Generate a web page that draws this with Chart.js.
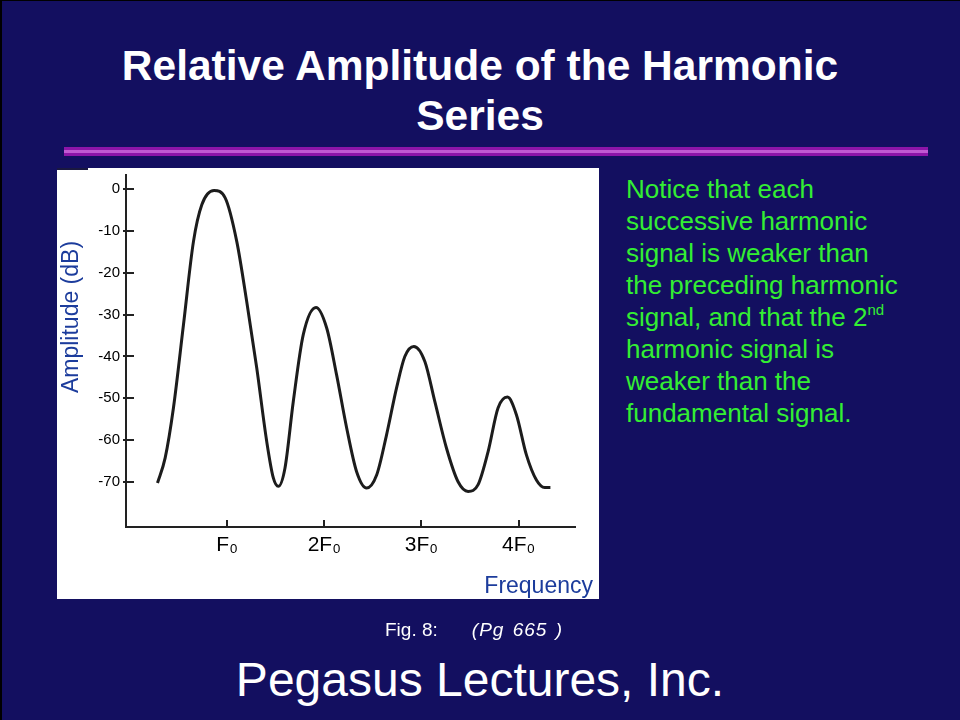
<!DOCTYPE html>
<html>
<head>
<meta charset="utf-8">
<title>Relative Amplitude of the Harmonic Series</title>
<script src="https://cdn.jsdelivr.net/npm/chart.js@4/dist/chart.umd.min.js"></script>
<style>
  html, body { margin: 0; padding: 0; }
  body { width: 960px; height: 720px; overflow: hidden; background: #130f60; font-family: "Liberation Sans", Arial, sans-serif; }
  #slide { position: relative; width: 960px; height: 720px; box-shadow: inset 2px 1px 0 #000; }
  #title { position: absolute; left: 0; top: 41px; width: 960px; text-align: center; color: #fff;
           font-weight: bold; font-size: 42.5px; line-height: 50px; }
  #rule { position: absolute; left: 64px; top: 147px; width: 864px; height: 9px;
          background: linear-gradient(#8c15a8 0 35%, #c05ad2 35% 62%, #8c15a8 62% 100%); }
  #panel { position: absolute; left: 57px; top: 168px; width: 542px; height: 431px; background: #fff; }
  #notch { position: absolute; left: 0; top: 0; width: 31px; height: 2px; background: #1a1840; }
  #chart { position: absolute; left: 0; top: 0; }
  .axisTitle { position: absolute; color: #1c3c9c; font-size: 23px; line-height: 23px; white-space: nowrap; }
  #yTitle { left: 13px; top: 149px; transform: translate(-50%, -50%) rotate(-90deg); }
  #xTitle { right: 6px; top: 406px; }
  #notes { position: absolute; left: 626px; top: 173px; color: #33ee33; font-size: 26px; line-height: 32px; }
  #notes sup { font-size: 15px; line-height: 0; vertical-align: 11px; }
  #fig { position: absolute; left: 385px; top: 620px; color: #fff; font-size: 19px; line-height: 19px; white-space: nowrap; }
  #fig i { margin-left: 34px; letter-spacing: 1px; word-spacing: 2px; }
  #footer { position: absolute; left: 0; top: 656px; width: 960px; text-align: center; color: #fff; font-size: 48px; line-height: 48px; }
</style>
</head>
<body>
<div id="slide">
  <div id="title">Relative Amplitude of the Harmonic<br>Series</div>
  <div id="rule"></div>
  <div id="panel">
    <canvas id="chart" width="542" height="431"></canvas>
    <div id="notch"></div>
    <div class="axisTitle" id="yTitle">Amplitude (dB)</div>
    <div class="axisTitle" id="xTitle">Frequency</div>
  </div>
  <div id="notes">Notice that each<br>successive harmonic<br>signal is weaker than<br>the preceding harmonic<br>signal, and that the 2<sup>nd</sup><br>harmonic signal is<br>weaker than the<br>fundamental signal.</div>
  <div id="fig">Fig. 8:<i>(Pg 665 )</i></div>
  <div id="footer">Pegasus Lectures, Inc.</div>
</div>

<script>
// frequency in multiples of F0
const freqValues = [
  0.284, 0.363, 0.448, 0.551, 0.654, 0.740, 0.866, 0.979, 1.100, 1.202,
  1.305, 1.408, 1.476, 1.527, 1.596, 1.681, 1.784, 1.915, 2.025, 2.127,
  2.230, 2.333, 2.436, 2.539, 2.641, 2.744, 2.829, 2.922, 3.035, 3.138,
  3.258, 3.377, 3.480, 3.583, 3.686, 3.788, 3.885, 3.977, 4.080, 4.183,
  4.268, 4.327
];
// amplitude in dB at each of those points
const amplitudeDb = [
  -70.2, -64.2, -52.3, -32.5, -12.6, -3.8, -0.4, -2.1, -12.6, -26.9,
  -42.7, -60.3, -69.0, -71.0, -66.6, -50.8, -34.8, -28.3, -33.2, -44.4,
  -57.0, -67.5, -71.4, -68.3, -58.7, -47.5, -40.0, -37.6, -41.2, -50.8,
  -61.9, -69.9, -72.2, -70.6, -62.7, -52.3, -49.7, -53.9, -63.5, -69.5,
  -71.3, -71.3
];
const harmonicTicks = [1, 2, 3, 4];
const harmonicLabels = ["F\u2080", "2F\u2080", "3F\u2080", "4F\u2080"];
const dbTicks = [0, -10, -20, -30, -40, -50, -60, -70];

const axisColor = "#222";
const fontFamily = "'Liberation Sans', Arial, sans-serif";

// small marks that cross the axes at each tick
const tickMarks = {
  id: "tickMarks",
  afterDraw(chart) {
    const { ctx, chartArea, scales } = chart;
    ctx.save();
    ctx.strokeStyle = axisColor;
    ctx.lineWidth = 2;
    ctx.beginPath();
    scales.y.ticks.forEach((t) => {
      const py = Math.round(scales.y.getPixelForValue(t.value));
      ctx.moveTo(chartArea.left - 3, py);
      ctx.lineTo(chartArea.left + 8, py);
    });
    scales.x.ticks.forEach((t) => {
      const px = Math.round(scales.x.getPixelForValue(t.value));
      ctx.moveTo(px, chartArea.bottom);
      ctx.lineTo(px, chartArea.bottom - 7);
    });
    ctx.stroke();
    ctx.restore();
  },
};

new Chart(document.getElementById("chart"), {
  type: "line",
  data: {
    datasets: [
      {
        data: freqValues.map((f, i) => ({ x: f, y: amplitudeDb[i] })),
        borderColor: "#1c1c1c",
        borderWidth: 3,
        pointRadius: 0,
        cubicInterpolationMode: "monotone",
        fill: false,
      },
    ],
  },
  options: {
    responsive: false,
    animation: false,
    layout: { padding: { top: 7, right: 24, left: 0, bottom: 0 } },
    plugins: { legend: { display: false }, tooltip: { enabled: false } },
    scales: {
      x: {
        type: "linear",
        min: -0.04,
        max: 4.58,
        afterBuildTicks: (s) => { s.ticks = harmonicTicks.map((v) => ({ value: v })); },
        afterFit: (s) => { s.height = 72; s.paddingLeft = 0; s.paddingRight = 0; },
        grid: { display: false, drawTicks: false },
        border: { color: axisColor, width: 2 },
        ticks: {
          autoSkip: false,
          maxRotation: 0,
          padding: 6,
          color: "#000",
          font: { family: fontFamily, size: 21 },
          callback: (v) => harmonicLabels[harmonicTicks.indexOf(v)],
        },
      },
      y: {
        type: "linear",
        min: -80.7,
        max: 3.3,
        afterBuildTicks: (s) => { s.ticks = dbTicks.map((v) => ({ value: v })); },
        afterFit: (s) => { s.width = 69; s.paddingTop = 0; s.paddingBottom = 0; },
        grid: { display: false, drawTicks: false },
        border: { color: axisColor, width: 2 },
        ticks: {
          padding: 6,
          color: "#000",
          font: { family: fontFamily, size: 15 },
        },
      },
    },
  },
  plugins: [tickMarks],
});
</script>
</body>
</html>
